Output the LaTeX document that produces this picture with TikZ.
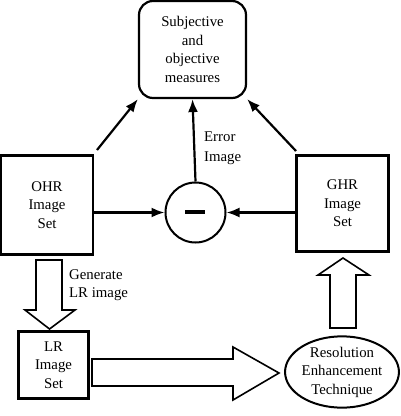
\documentclass[tikz,border=0pt]{standalone}
\usepackage{fontspec}
\setmainfont{Liberation Serif}
\usetikzlibrary{arrows.meta,shapes.geometric}
\begin{document}
\begin{tikzpicture}[x=1pt,y=-1pt,
  txt/.style={font=\fontsize{14.8}{18.5}\selectfont, align=center, inner sep=0pt},
  boxnode/.style={draw, line width=2.2pt, txt},
  conn/.style={line width=2.2pt, -{Latex[length=13pt,width=10pt]}},
  hollow/.style={draw, line width=1.6pt, line join=miter, fill=white}]
\useasboundingbox (0,0) rectangle (400,416);
% nodes
\node[boxnode, rounded corners=14pt, minimum width=107pt, minimum height=97pt] (meas) at (192.5,49.5) {Subjective\\and\\objective\\measures};
\node[boxnode, minimum width=92pt, minimum height=99pt] (ohr) at (47,205) {OHR\\Image\\Set};
\node[boxnode, minimum width=92pt, minimum height=96pt] (ghr) at (342.5,203.5) {GHR\\Image\\Set};
\node[draw, line width=2pt, circle, minimum size=60pt, inner sep=0pt] (diff) at (195.5,212.5) {};
\draw[line width=4.5pt] (185,212) -- (205,212);
\node[boxnode, minimum width=70pt, minimum height=67pt] (lr) at (53.5,365) {LR\\Image\\Set};
\node[draw, line width=2pt, ellipse, minimum width=113pt, minimum height=69pt, txt] (ret) at (342,372) {Resolution\\Enhancement\\Technique};
% connectors
\draw[conn] (ohr.east |- diff.west) -- (diff.west);
\draw[conn] (ghr.west |- diff.east) -- (diff.east);
\draw[conn] (diff.north) -- (meas.south);
\node[txt, align=left, anchor=west, font=\fontsize{14.8}{19.5}\selectfont] (errlbl) at (204,148) {Error\\Image};
\coordinate (a1) at (97,150);
\coordinate (a2) at (296,151);
\draw[conn] (a1) -- (meas.south west);
\draw[conn] (a2) -- (meas.south east);
% hollow arrows
\path[hollow] (36,260) -- (62,260) -- (62,310) -- (75,310) -- (49.5,329) -- (25,310) -- (36,310) -- cycle;
\node[txt, align=left, anchor=north west] (genlbl) at (69,269) {Generate\\LR image};
\path[hollow] (92,359) -- (233,359) -- (233,347) -- (279,373) -- (233,400) -- (233,386) -- (92,386) -- cycle;
\path[hollow] (330,328) -- (330,275) -- (318,275) -- (343,258) -- (369,275) -- (356,275) -- (356,328) -- cycle;
\end{tikzpicture}
\end{document}
